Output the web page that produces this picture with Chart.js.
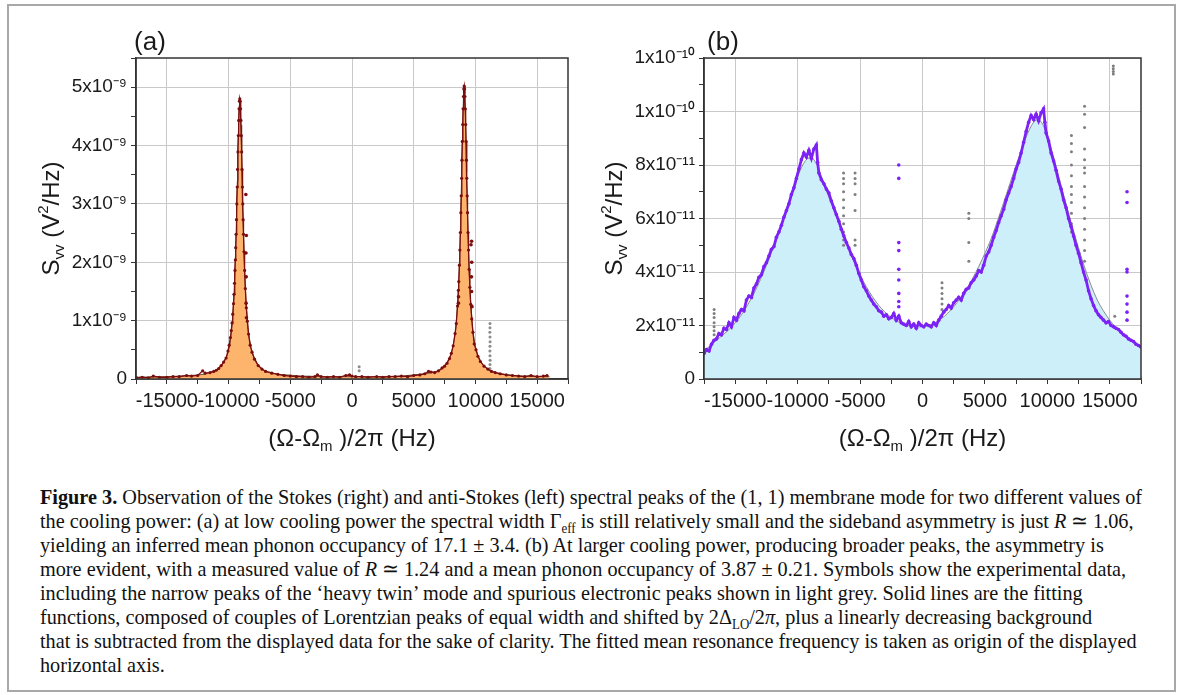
<!DOCTYPE html>
<html>
<head>
<meta charset="utf-8">
<script src="https://cdn.jsdelivr.net/npm/chart.js@4.4.1/dist/chart.umd.min.js"></script>
<style>
body { margin:0; background:#fff; width:1182px; height:695px; overflow:hidden; position:relative; }
#frame { position:absolute; left:7px; top:4px; width:1165px; height:684px; border:2px solid #a8a8a8; }
#chartA { position:absolute; left:8px; top:6px; }
#chartB { position:absolute; left:590px; top:6px; }
#caption { position:absolute; left:40px; top:485px; font-family:'Liberation Serif','Times New Roman',serif;
  font-size:22px; color:#111; white-space:nowrap; transform:scaleX(0.92); transform-origin:left top; }
#caption div { height:24px; line-height:24px; }
#caption sub { font-size:14px; line-height:0; }
</style>
</head>
<body>
<div id="frame"></div>
<canvas id="chartA" width="582" height="454"></canvas>
<canvas id="chartB" width="582" height="454"></canvas>
<div id="caption">
<div><b>Figure 3.</b> Observation of the Stokes (right) and anti-Stokes (left) spectral peaks of the (1, 1) membrane mode for two different values of</div>
<div>the cooling power: (a) at low cooling power the spectral width Γ<sub>eff</sub> is still relatively small and the sideband asymmetry is just <i>R</i> ≃ 1.06,</div>
<div>yielding an inferred mean phonon occupancy of 17.1 ± 3.4. (b) At larger cooling power, producing broader peaks, the asymmetry is</div>
<div>more evident, with a measured value of <i>R</i> ≃ 1.24 and a mean phonon occupancy of 3.87 ± 0.21. Symbols show the experimental data,</div>
<div>including the narrow peaks of the ‘heavy twin’ mode and spurious electronic peaks shown in light grey. Solid lines are the fitting</div>
<div>functions, composed of couples of Lorentzian peaks of equal width and shifted by 2Δ<sub>LO</sub>/2<i>π</i>, plus a linearly decreasing background</div>
<div>that is subtracted from the displayed data for the sake of clarity. The fitted mean resonance frequency is taken as origin of the displayed</div>
<div>horizontal axis.</div>
</div>
<script>
// ---- axes (x in Hz, y of (a) in 1e-9 V^2/Hz, y of (b) in 1e-11 V^2/Hz) ----
var xMajor = [-15000, -10000, -5000, 0, 5000, 10000, 15000];
var xLabels = ['-15000', '-10000', '-5000', '0', '5000', '10000', '15000'];
var xMinor = [-17500, -12500, -7500, -2500, 2500, 7500, 12500, 17500];
var yMajorA = [0, 1, 2, 3, 4, 5];
var yLabelsA = ['0', '1x10⁻⁹', '2x10⁻⁹', '3x10⁻⁹', '4x10⁻⁹', '5x10⁻⁹'];
var yMinorA = [0.5, 1.5, 2.5, 3.5, 4.5, 5.5];
var yMajorB = [0, 2, 4, 6, 8, 10, 12];
var yLabelsB = ['0', '2x10⁻¹¹', '4x10⁻¹¹', '6x10⁻¹¹', '8x10⁻¹¹', '1x10⁻¹⁰', '1x10⁻¹⁰'];
var yMinorB = [1, 3, 5, 7, 9, 11];

// ---- panel (a) ----
var fitAX = [-17500,-15000,-13000,-12000,-11000,-10500,-10100,-9900,-9700,-9590,-9490,-9400,-9290,-9240,-9190,-9140,-9090,
  -9040,-8990,-8940,-8890,-8780,-8690,-8590,-8390,-8190,-7990,-7590,-7090,-6000,-4000,-2000,0,2000,4000,6000,7090,7590,
  7990,8190,8390,8590,8690,8780,8890,8940,8990,9040,9090,9140,9190,9240,9290,9400,9490,9590,9790,9990,10190,10590,11090,
  12000,13000,14000,15000,16000];
var fitAY = [0.03,0.04,0.06,0.08,0.15,0.26,0.41,0.58,0.97,1.33,1.80,2.40,3.39,3.89,4.35,4.68,4.80,
  4.68,4.35,3.89,3.39,2.40,1.80,1.33,0.79,0.54,0.40,0.23,0.14,0.08,0.05,0.04,0.04,0.04,0.05,0.09,0.14,0.24,
  0.41,0.56,0.82,1.39,1.88,2.51,3.55,4.07,4.55,4.89,5.02,4.89,4.55,4.07,3.55,2.51,1.88,1.39,0.82,0.56,0.41,0.24,0.15,
  0.09,0.06,0.05,0.04,0.04];

var dataAX = [-17450,-17000,-16500,-16100,-15600,-15000,-14500,-14000,-13400,-13000,-12500,-12100,-11900,-11500,-11200,
  -11000,-10800,-10600,-10400,-10200,-10050,-9950,-9850,-9780,-9720,-9660,-9600,-9560,-9520,-9480,-9450,-9420,-9390,
  -9360,-9330,-9300,-9270,-9240,-9210,-9180,-9150,-9120,-9090,-9060,-9030,-9000,-8970,-8940,-8910,-8880,-8850,-8820,
  -8790,-8750,-8700,-8640,-8560,-8480,-8380,-8250,-8100,-7900,-7600,-7300,-7000,-6500,-6000,-5500,-5000,
  -4500,-4000,-3500,-3000,-2800,-2500,-2000,-1500,-1000,-500,-200,0,300,800,1300,2000,2500,3000,3500,4000,4500,5000,
  5500,5900,6200,6400,6700,7000,7300,7500,7700,7900,8050,8200,8350,8450,8550,8620,8650,8700,8740,8780,8820,8850,8880,
  8910,8940,8970,9000,9030,9060,9090,9120,9150,9180,9210,9240,9270,9300,9330,9360,9400,9440,9490,9550,9620,9700,9800,
  9900,10050,10200,10400,10700,11000,11300,11600,12000,12500,13000,13500,14000,14500,15000,15500,15800];
var dataAY = [0.02,0.03,0.02,0.05,0.03,0.03,0.04,0.04,0.06,0.05,0.06,0.14,0.10,0.11,0.13,
  0.15,0.18,0.23,0.29,0.36,0.48,0.58,0.71,0.83,0.96,1.11,1.29,1.45,1.64,1.86,2.04,2.25,2.48,
  2.73,3.00,3.29,3.59,3.89,4.17,4.43,4.63,4.76,4.80,4.76,4.63,4.43,4.17,3.89,3.59,3.29,3.00,2.73,
  2.48,2.18,1.86,1.55,1.22,0.99,0.77,0.58,0.46,0.34,0.23,0.17,0.13,0.10,0.08,0.06,0.05,
  0.04,0.04,0.03,0.04,0.07,0.04,0.03,0.04,0.03,0.06,0.07,0.05,0.04,0.04,0.03,0.04,0.03,0.04,0.04,0.05,0.04,0.06,
  0.07,0.09,0.13,0.12,0.11,0.14,0.19,0.22,0.27,0.35,0.44,0.57,0.78,0.95,1.25,1.52,1.67,1.95,2.21,2.51,2.85,3.14,3.44,
  3.75,4.07,4.36,4.63,4.84,4.97,5.02,4.97,4.84,4.63,4.36,4.07,3.75,3.44,3.14,2.85,2.51,2.21,1.88,1.57,1.28,1.03,0.80,
  0.60,0.50,0.39,0.30,0.22,0.17,0.13,0.11,0.09,0.07,0.06,0.05,0.04,0.06,0.04,0.05,0.06];

var outAX = [-8600, -8560, -8590, -8570, -8580, -8550, 9690, 9640, 9700, 9680, 9690, 9720, 8630, 8620];
var outAY = [3.16, 2.46, 2.16, 1.75, 1.30, 1.05, 2.36, 2.30, 2.00, 1.75, 1.50, 1.24, 1.41, 1.30];

var greyAX = [11180, 11180, 11170, 11180, 11190, 11180, 11170, 11180, 11190, 11180, 11170, 580, 580];
var greyAY = [0.95, 0.88, 0.80, 0.72, 0.64, 0.56, 0.48, 0.40, 0.32, 0.25, 0.18, 0.21, 0.14];

// ---- panel (b) ----
var fitBX = [-17500,-16500,-15500,-14500,-13500,-12500,-11500,-10500,-9800,-9200,-8700,-8200,-7500,-6500,-5500,-4500,
  -3500,-2500,-1500,-500,500,1500,2500,3500,4500,5500,6500,7500,8300,8900,9300,9700,10200,11000,12000,13000,14000,
  15000,16000,17000,17500];
var fitBY = [1.05,1.45,1.85,2.4,3.2,4.25,5.5,6.9,7.8,8.25,8.2,7.7,6.8,5.6,4.4,3.45,
  2.75,2.3,2.05,1.95,2.0,2.25,2.7,3.35,4.2,5.25,6.6,8.0,9.05,9.6,9.7,9.45,8.8,7.4,5.7,4.15,2.95,
  2.2,1.7,1.35,1.2];

var dataBX = [-17500,-17300,-17100,-16900,-16700,-16500,-16300,-16100,-15900,-15700,-15500,-15300,-15100,-14900,-14700,
  -14500,-14300,-14100,-13900,-13700,-13500,-13300,-13100,-12900,-12700,-12500,-12300,-12100,-11900,-11700,-11500,-11300,
  -11100,-10900,-10700,-10500,-10300,-10100,-9900,-9700,-9500,-9300,-9100,-8900,-8700,-8500,-8400,-8300,-8100,-7900,
  -7700,-7500,-7300,-7100,-6900,-6700,-6500,-6300,-6100,-5900,-5700,-5500,-5300,-5100,-4900,-4700,-4500,-4300,-4100,
  -3900,-3700,-3500,-3300,-3100,-2900,-2700,-2500,-2300,-2100,-1900,-1700,-1500,-1300,-1100,-900,-700,-500,-300,-100,
  100,300,500,700,900,1100,1300,1500,1700,1900,2100,2300,2500,2700,2900,3100,3300,3500,3700,3900,4100,4300,4500,4700,
  4900,5100,5300,5500,5700,5900,6100,6300,6500,6700,6900,7100,7300,7500,7700,7900,8100,8300,8500,8700,8900,9100,9300,
  9500,9700,9800,9900,10100,10300,10500,10700,10900,11100,11300,11500,11700,11900,12100,12300,12500,12700,12900,13100,
  13300,13500,13700,13900,14100,14300,14500,14700,14900,15100,15300,15500,15700,15900,16100,16300,16500,16700,16900,
  17100,17300,17500];
var dataBY = [0.95,1.10,1.05,1.30,1.45,1.50,1.70,1.65,1.90,1.85,2.10,1.95,2.30,2.20,2.45,
  2.60,2.55,2.95,3.10,3.05,3.40,3.55,3.80,3.90,4.20,4.35,4.60,4.85,4.95,5.30,5.50,5.75,
  6.05,6.30,6.55,6.90,7.15,7.50,7.85,8.20,8.45,8.30,8.55,8.25,8.60,8.75,8.10,7.70,7.45,7.30,
  7.10,6.95,6.65,6.40,6.15,5.90,5.60,5.35,5.10,4.90,4.65,4.50,4.25,3.95,3.70,3.45,3.30,3.10,2.95,
  2.80,2.70,2.55,2.50,2.35,2.40,2.25,2.30,2.45,2.20,2.35,2.10,2.05,2.00,2.15,1.95,2.05,1.90,2.10,2.00,
  1.95,2.05,2.00,1.95,2.10,2.00,2.20,2.35,2.50,2.60,2.75,2.65,2.85,2.95,3.05,2.95,3.20,3.35,3.40,3.60,3.70,3.85,4.05,4.00,
  4.25,4.60,4.75,5.00,5.30,5.55,5.85,6.10,6.35,6.70,6.95,7.20,7.50,7.85,8.10,8.45,8.85,9.25,9.60,9.85,9.70,9.90,9.65,
  9.95,10.10,9.60,9.20,8.90,8.45,8.15,7.80,7.40,7.10,6.70,6.40,6.00,5.70,5.35,5.00,4.70,4.35,4.00,3.70,
  3.30,3.00,2.75,2.55,2.40,2.30,2.20,2.10,2.15,2.00,1.95,1.90,1.85,1.75,1.65,1.60,1.50,1.45,1.40,
  1.30,1.25,1.20];

var outBX = [-1900,-1900,-1900,-1900,-1900,-1900,-1900,-1900,-1900, 16380,16380,16380,16380,16380,16380,16380,16380];
var outBY = [8.0, 7.5, 5.1, 4.8, 4.1, 3.7, 3.2, 2.9, 2.7, 7.0, 6.6, 4.1, 4.0, 3.1, 2.8, 2.5, 2.2];

var greyBX = [-16690,-16690,-16690,-16690,-16690,-16690,-16690,
  -6320,-6320,-6320,-6320,-6320,-6320,-6320,-6320,-6320,-6320,-6320,
  -5400,-5400,-5400,-5400,-5400,-5400,-5400,
  1560,1560,1560,1560,1560,1560, 3710,3710,3710,3710,
  11930,11930,11930,11930,11930,11930,11930,11930,11930,11930,11930,
  12980,12980,12980,12980,12980,12980,12980,12980,12980,12980,12980,12980,12980,12980,12980,
  15280,15280,15280,15280, 15400];
var greyBY = [2.6,2.45,2.3,2.1,1.95,1.8,1.65,
  7.7,7.5,7.3,7.0,6.7,6.4,6.1,5.8,5.5,5.2,5.0,
  7.7,7.5,7.3,6.9,6.3,5.2,5.0,
  3.6,3.4,3.2,3.0,2.8,2.6, 6.2,6.0,5.1,4.4,
  9.1,8.8,8.5,8.0,7.6,7.2,6.9,6.6,6.2,5.8,5.5,
  10.2,9.9,9.4,8.6,8.2,7.9,7.7,7.2,6.8,6.4,6.0,5.6,5.2,4.8,4.4,
  11.7,11.6,11.5,11.4, 2.35];

function pts(xs, ys) {
  var out = [];
  for (var i = 0; i < xs.length; i++) out.push({x: xs[i], y: ys[i]});
  return out;
}

var FONT = "'Liberation Sans', Arial, sans-serif";

// text with sub/superscripts, centered at (cx, cy)
function richText(ctx, segs, cx, cy, size, rot) {
  var w = 0, parts = [];
  segs.forEach(function (s) {
    var fs = s.k ? Math.round(size * 0.62) : size;
    ctx.font = fs + 'px ' + FONT;
    var pw = ctx.measureText(s.t).width;
    parts.push({t: s.t, fs: fs, pw: pw, dy: s.k === 'sub' ? size * 0.32 : (s.k === 'sup' ? -size * 0.36 : 0)});
    w += pw;
  });
  ctx.save();
  ctx.translate(cx, cy);
  if (rot) ctx.rotate(-Math.PI / 2);
  ctx.textBaseline = 'middle';
  ctx.textAlign = 'left';
  var x = -w / 2;
  parts.forEach(function (p) {
    ctx.font = p.fs + 'px ' + FONT;
    ctx.fillText(p.t, x, p.dy);
    x += p.pw;
  });
  ctx.restore();
}

var yTitle = [{t: 'S'}, {t: 'vv', k: 'sub'}, {t: ' (V'}, {t: '2', k: 'sup'}, {t: '/Hz)'}];
var xTitle = [{t: '(Ω-Ω'}, {t: 'm', k: 'sub'}, {t: ' )/2π (Hz)'}];

var decor = {
  id: 'decor',
  afterDraw: function (chart, args, o) {
    var ctx = chart.ctx, a = chart.chartArea;
    ctx.save();
    ctx.strokeStyle = '#333';
    ctx.lineWidth = 1.5;
    ctx.strokeRect(a.left, a.top, a.right - a.left, a.bottom - a.top);
    ctx.fillStyle = '#1a1a1a';
    richText(ctx, [{t: o.panel}], o.panelX, 37, 26, false);
    richText(ctx, yTitle, o.yTitleX, (a.top + a.bottom) / 2, 24, true);
    richText(ctx, xTitle, (a.left + a.right) / 2, 433, 24, false);
    ctx.restore();
  }
};

function makeOptions(yMax, yMajor, yLabels, yMinor, yWidth, padRight, panel, panelX, yTitleX) {
  return {
    responsive: false,
    animation: false,
    events: [],
    layout: {padding: {left: 0, top: 52, right: padRight, bottom: 0}},
    plugins: {
      legend: {display: false},
      tooltip: {enabled: false},
      decor: {panel: panel, panelX: panelX, yTitleX: yTitleX}
    },
    scales: {
      x: {
        type: 'linear', min: -17500, max: 17500,
        afterBuildTicks: function (s) {
          s.ticks = xMajor.concat(xMinor).sort(function (p, q) { return p - q; }).map(function (v) { return {value: v}; });
        },
        afterFit: function (s) { s.height = 81; },
        grid: {
          color: function (c) { return xMajor.indexOf(c.tick.value) >= 0 ? '#c9c9c9' : 'rgba(0,0,0,0)'; },
          tickColor: '#333', tickLength: 5, lineWidth: 1
        },
        border: {color: '#333', width: 1.5},
        ticks: {
          autoSkip: false, maxRotation: 0, padding: 5, color: '#1a1a1a',
          font: {family: FONT, size: 20},
          callback: function (v) { var i = xMajor.indexOf(v); return i >= 0 ? xLabels[i] : ''; }
        }
      },
      y: {
        type: 'linear', min: 0, max: yMax,
        afterBuildTicks: function (s) {
          s.ticks = yMajor.concat(yMinor).sort(function (p, q) { return p - q; }).map(function (v) { return {value: v}; });
        },
        afterFit: function (s) { s.width = yWidth; },
        grid: {
          color: function (c) { return yMajor.indexOf(c.tick.value) >= 0 ? '#c9c9c9' : 'rgba(0,0,0,0)'; },
          tickColor: '#333', tickLength: 5, lineWidth: 1
        },
        border: {color: '#333', width: 1.5},
        ticks: {
          autoSkip: false, padding: 4, color: '#1a1a1a',
          font: {family: FONT, size: 19},
          callback: function (v) { var i = yMajor.indexOf(v); return i >= 0 ? yLabels[i] : ''; }
        }
      }
    }
  };
}

new Chart(document.getElementById('chartA'), {
  type: 'scatter',
  data: {
    datasets: [
      {data: pts(dataAX, dataAY), showLine: true, borderColor: '#7a0d0d', borderWidth: 1.3,
        pointRadius: 1.6, pointBackgroundColor: '#7a0d0d', pointBorderWidth: 0, order: 1},
      {data: pts(outAX, outAY), pointRadius: 1.8, pointBackgroundColor: '#7a0d0d', pointBorderWidth: 0, order: 1},
      {data: pts(greyAX, greyAY), pointRadius: 1.5, pointBackgroundColor: '#8c8c8c', pointBorderWidth: 0, order: 2},
      {data: pts(fitAX, fitAY), showLine: true, fill: 'origin', backgroundColor: '#fdb46c',
        borderColor: '#4a3020', borderWidth: 0.8, pointRadius: 0, order: 3}
    ]
  },
  options: makeOptions(5.5, yMajorA, yLabelsA, yMinorA, 128, 22, '(a)', 142, 44),
  plugins: [decor]
});

new Chart(document.getElementById('chartB'), {
  type: 'scatter',
  data: {
    datasets: [
      {data: pts(dataBX, dataBY), showLine: true, borderColor: '#7d22f5', borderWidth: 2.8,
        pointRadius: 1.8, pointBackgroundColor: '#7d22f5', pointBorderWidth: 0, order: 1},
      {data: pts(outBX, outBY), pointRadius: 1.8, pointBackgroundColor: '#7d22f5', pointBorderWidth: 0, order: 1},
      {data: pts(greyBX, greyBY), pointRadius: 1.5, pointBackgroundColor: '#7f7f7f', pointBorderWidth: 0, order: 2},
      {data: pts(fitBX, fitBY), showLine: true, fill: 'origin', backgroundColor: '#cdeffa',
        borderColor: '#8a8a8a', borderWidth: 1, pointRadius: 0, tension: 0.3, order: 3}
    ]
  },
  options: makeOptions(12, yMajorB, yLabelsB, yMinorB, 114, 31, '(b)', 133, 25),
  plugins: [decor]
});
</script>
</body>
</html>
